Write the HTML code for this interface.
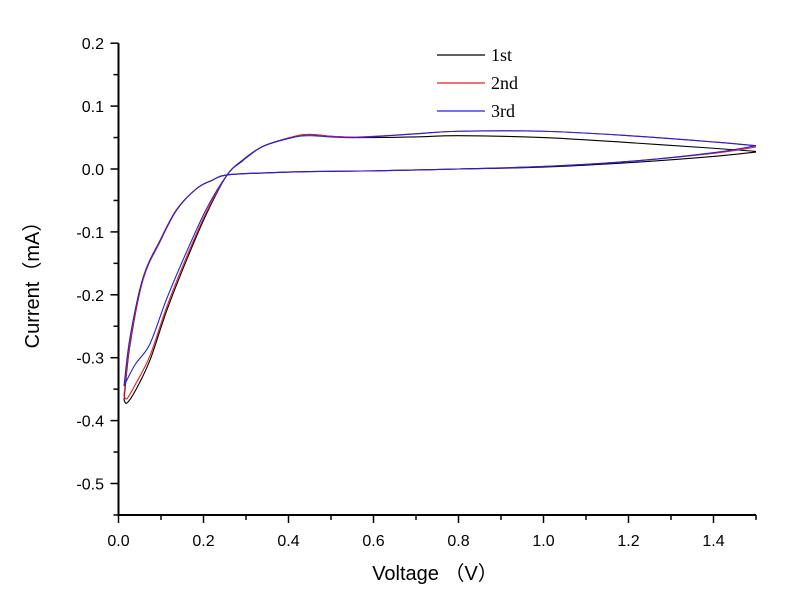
<!DOCTYPE html>
<html><head><meta charset="utf-8"><style>
body{margin:0;background:#fff;}
svg{display:block;font-family:"Liberation Sans","Noto Sans CJK SC",sans-serif;}
</style></head><body>
<svg id="chart" width="800" height="601"></svg>
<script>
const cathV=[1.5,1.4,1.2,1.0,0.8,0.6,0.45,0.35,0.255,0.22,0.184,0.137,0.098,0.058,0.027,0.013];
const cath1=[0.027,0.02,0.01,0.003,0.0,-0.003,-0.004,-0.006,-0.0095,-0.018,-0.031,-0.065,-0.115,-0.175,-0.28,-0.367];
const cath2=[0.035,0.025,0.012,0.004,0.0,-0.003,-0.004,-0.006,-0.0095,-0.018,-0.031,-0.065,-0.115,-0.175,-0.277,-0.36];
const cath3=[0.037,0.026,0.012,0.004,0.0,-0.003,-0.004,-0.006,-0.0095,-0.018,-0.031,-0.064,-0.113,-0.172,-0.268,-0.345];
const anoV=[0.013,0.02,0.04,0.074,0.113,0.16,0.208,0.255,0.29,0.34,0.41,0.45,0.5,0.568,0.7,0.8,1.0,1.2,1.4,1.5];
const ano1=[-0.367,-0.372,-0.352,-0.304,-0.226,-0.145,-0.07,-0.01,0.012,0.036,0.051,0.055,0.052,0.05,0.051,0.053,0.05,0.042,0.033,0.028];
const ano2=[-0.36,-0.365,-0.342,-0.297,-0.22,-0.14,-0.067,-0.01,0.013,0.036,0.051,0.055,0.052,0.051,0.056,0.06,0.06,0.053,0.043,0.037];
const ano3=[-0.345,-0.335,-0.31,-0.278,-0.207,-0.132,-0.062,-0.01,0.013,0.036,0.05,0.053,0.051,0.05,0.056,0.06,0.06,0.053,0.043,0.037];
const seriesNames=["1st","2nd","3rd"];
const seriesColors=["#000000","#e02020","#2020e0"];
const xTicks=["0.0","0.2","0.4","0.6","0.8","1.0","1.2","1.4"];
const yTicks=["0.2","0.1","0.0","-0.1","-0.2","-0.3","-0.4","-0.5"];

const NS="http://www.w3.org/2000/svg";
const svg=document.getElementById('chart');
const X0=118.5,XS=425,Y0=169,YS=629;
const xs=v=>X0+v*XS, ys=i=>Y0-i*YS;
function mk(t,a,p){const e=document.createElementNS(NS,t);for(const k in a)e.setAttribute(k,a[k]);(p||svg).appendChild(e);return e;}
function smooth(pts){let d=`M${pts[0][0]},${pts[0][1]}`;for(let i=0;i<pts.length-1;i++){const p0=pts[i-1]||pts[i],p1=pts[i],p2=pts[i+1],p3=pts[i+2]||p2;
d+=` C${p1[0]+(p2[0]-p0[0])/6},${p1[1]+(p2[1]-p0[1])/6} ${p2[0]-(p3[0]-p1[0])/6},${p2[1]-(p3[1]-p1[1])/6} ${p2[0]},${p2[1]}`;}return d;}

const ax=mk('path',{d:`M${xs(0)},${ys(0.2)} V${ys(-0.55)} H${xs(1.5)}`,fill:'none',stroke:'#000','stroke-width':2});


for(let k=0;k<=15;k++){const x=xs(k*0.1);const t=mk('line',{x1:x,x2:x,y1:ys(-0.55),y2:ys(-0.55)+(k%2?5:8),stroke:'#000','stroke-width':1.5});

}
xTicks.forEach(s=>{const t=mk('text',{x:xs(parseFloat(s)),y:546,'text-anchor':'middle','font-size':16});t.textContent=s;

});
for(let k=0;k<=15;k++){const v=0.2-k*0.05;const y=ys(v);const t=mk('line',{x1:xs(0),x2:xs(0)-(k%2?5:8),y1:y,y2:y,stroke:'#000','stroke-width':1.5});

}
yTicks.forEach(s=>{const t=mk('text',{x:104,y:ys(parseFloat(s))+6,'text-anchor':'end','font-size':16});t.textContent=s;

});
const xt=mk('text',{x:435,y:580,'text-anchor':'middle','font-size':20});xt.textContent='Voltage （V）';


const yt=mk('text',{x:0,y:0,'text-anchor':'middle','font-size':20,transform:'translate(39,280) rotate(-90)'});yt.textContent='Current（mA）';



const cath=[cath1,cath2,cath3],ano=[ano1,ano2,ano3];
[0,1,2].forEach(s=>{
  const pc=cathV.map((v,i)=>[xs(v),ys(cath[s][i])]);
  const pa=anoV.map((v,i)=>[xs(v),ys(ano[s][i])]);
  const p=mk('path',{d:smooth(pc)+' '+smooth(pa).replace(/^M/,'L'),fill:'none',stroke:seriesColors[s],'stroke-width':1.1});
  
  
  const ly=55+s*28;
  const l=mk('line',{x1:437,x2:485,y1:ly,y2:ly,stroke:seriesColors[s],'stroke-width':1.2});
  
  
  const t=mk('text',{x:491,y:ly+6,'font-size':18,'font-family':'Liberation Serif, serif'});t.textContent=seriesNames[s];
  
  
});
</script>
</body></html>
